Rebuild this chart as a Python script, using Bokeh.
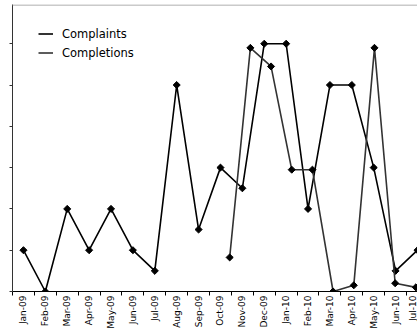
import math
from bokeh.plotting import figure
from bokeh.models import Range1d, FixedTicker, Legend, LegendItem, Span
from bokeh.embed import file_html
from bokeh.resources import INLINE

months = ["Jan-09", "Feb-09", "Mar-09", "Apr-09", "May-09", "Jun-09", "Jul-09",
          "Aug-09", "Sep-09", "Oct-09", "Nov-09", "Dec-09", "Jan-10", "Feb-10",
          "Mar-10", "Apr-10", "May-10", "Jun-10", "Jul-10"]
complaints = [2, 0, 4, 2, 4, 2, 1, 10, 3, 6, 5, 12, 12, 4, 10, 10, 6, 1, 2]
completion_months = months[9:]
completions = [1.65, 11.8, 10.9, 5.9, 5.9, 0, 0.3, 11.8, 0.4, 0.2]
y_ticks = [0, 2, 4, 6, 8, 10, 12]
y_top = 13.9

x_a = list(range(len(months)))
x_b = list(range(len(completion_months)))

p = figure(width=417, height=331, output_backend="svg", toolbar_location=None,
           x_range=Range1d(-0.5, 18.0), y_range=Range1d(0, y_top))
p.extra_x_ranges = {"b": Range1d(-10.5, 9.08)}

p.min_border_left = 12
p.min_border_top = 4
p.min_border_right = 0
p.min_border_bottom = 0
p.outline_line_color = None
p.xgrid.visible = False
p.ygrid.visible = False
p.background_fill_color = "white"
p.border_fill_color = "white"

xa = p.xaxis[0]
xa.ticker = FixedTicker(ticks=x_a, minor_ticks=[i - 0.5 for i in range(len(months) + 1)])
xa.major_label_overrides = {i: m for i, m in enumerate(months)}
xa.major_label_orientation = math.pi / 2
xa.major_tick_out = 0
xa.major_tick_in = 0
xa.minor_tick_out = 4
xa.minor_tick_in = 0
xa.minor_tick_line_color = "black"
xa.axis_line_color = "black"
xa.major_label_standoff = 0
xa.major_label_text_font = "DejaVu Sans"
xa.major_label_text_font_size = "9px"
xa.major_label_text_color = "black"

ya = p.yaxis[0]
ya.ticker = FixedTicker(ticks=y_ticks)
ya.major_label_text_font_size = "1px"
ya.major_label_text_color = None
ya.major_label_standoff = 0
ya.major_tick_out = 3
ya.major_tick_in = 0
ya.minor_tick_line_color = None
ya.axis_line_color = "#333333"
ya.major_tick_line_color = "#333333"

p.add_layout(Span(location=y_top - 0.03, dimension="width", line_color="#b8b8b8",
                  line_width=1.5))

rA = p.line(x_a, complaints, line_color="black", line_width=1.6)
p.scatter(x_a, complaints, marker="square", angle=math.pi / 4, size=5, color="black")
rB = p.line(x_b, completions, x_range_name="b", line_color="#333333", line_width=1.6)
p.scatter(x_b, completions, x_range_name="b", marker="square", angle=math.pi / 4,
          size=5, color="black")

legend = Legend(items=[LegendItem(label="Complaints", renderers=[rA]),
                       LegendItem(label="Completions", renderers=[rB])],
                location=(26, 231), border_line_color=None, background_fill_alpha=0,
                padding=0, margin=0, spacing=4, glyph_width=15, glyph_height=15,
                label_height=15, label_standoff=9, label_text_font="DejaVu Sans",
                label_text_font_size="11.5px", label_text_color="black")
p.add_layout(legend)

open("out.html", "w").write(file_html(p, INLINE))
